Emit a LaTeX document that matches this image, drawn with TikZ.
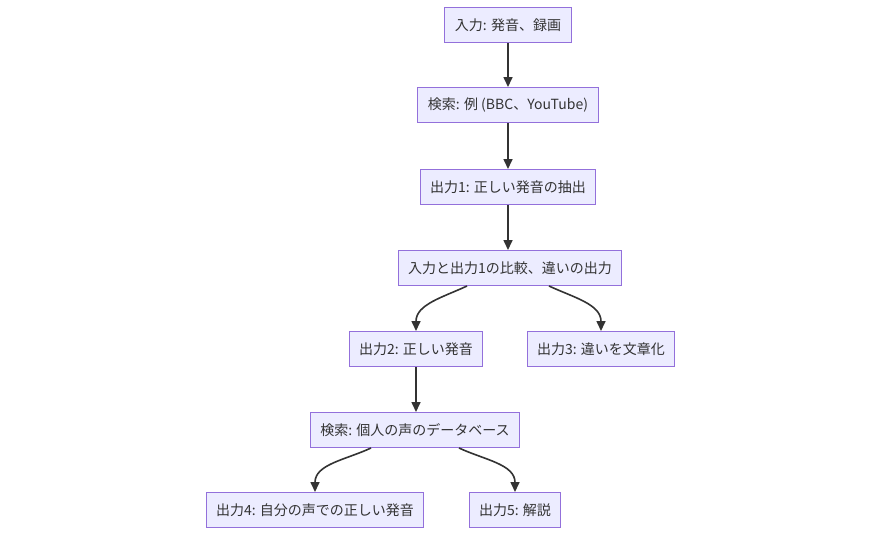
\documentclass[tikz,border=0pt]{standalone}
\usepackage{fontspec}
\usepackage{tikz}
\usepackage{xcolor}
\usetikzlibrary{arrows.meta}
\newfontfamily\jpfont{Noto Sans CJK JP}

\definecolor{boxfill}{HTML}{ECECFF}
\definecolor{boxline}{HTML}{9370DB}
\definecolor{inkline}{HTML}{333333}

\begin{document}
\begin{tikzpicture}[x=1pt, y=-1pt,
    box/.style={draw=boxline, fill=boxfill, line width=1pt, inner xsep=10pt,
      minimum height=35pt, text=inkline, font=\jpfont\fontsize{14}{16}\selectfont},
    flow/.style={draw=inkline, line width=1.6pt,
      -{Triangle[length=10pt,width=9pt]}}]
    \def\dx{48}
    \useasboundingbox[fill=white] (0,0) rectangle (880,536);

    % main column
    \node[box] (inp)  at (508,25)  {入力: 発音、録画};
    \node[box] (srch) at (508,105) {検索: 例 (BBC、YouTube)};
    \node[box] (out1) at (508,187) {出力1: 正しい発音の抽出};
    \node[box] (cmp)  at (510,268) {入力と出力1の比較、違いの出力};
    % first split
    \node[box] (out2) at (416,349) {出力2: 正しい発音};
    \node[box] (out3) at (601,349) {出力3: 違いを文章化};
    \node[box] (voice) at (415,430) {検索: 個人の声のデータベース};
    % second split
    \node[box] (out4) at (315,510) {出力4: 自分の声での正しい発音};
    \node[box] (out5) at (515,510) {出力5: 解説};

    \draw[flow] (inp) -- (srch);
    \draw[flow] (srch) -- (out1);
    \draw[flow] (out1) -- (cmp.north -| out1);
    \draw[flow] ([xshift=-43pt]cmp.south) to[out=-155, in=90] (out2.north);
    \draw[flow] ([xshift=39pt]cmp.south) to[out=-25, in=90] (out3.north);
    \draw[flow] (out2) -- (voice.north -| out2);
    \draw[flow] ([xshift=-44pt]voice.south) to[out=-155, in=90] (out4.north);
    \draw[flow] ([xshift=44pt]voice.south) to[out=-25, in=90] (out5.north);

\end{tikzpicture}
\end{document}
